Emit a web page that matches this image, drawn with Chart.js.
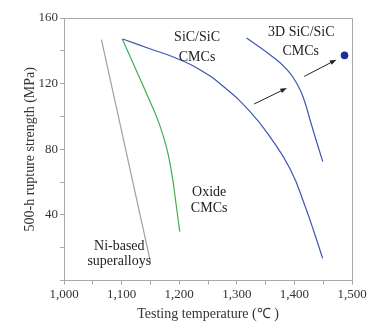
<!DOCTYPE html>
<html><head><meta charset="utf-8">
<script src="https://cdn.jsdelivr.net/npm/chart.js@4/dist/chart.umd.min.js"></script>
<style>html,body{margin:0;padding:0;background:#fff}#wrap{width:384px;height:323px}</style>
</head><body><div id="wrap"><canvas id="c" width="384" height="323"></canvas></div>
<script>
// Data (temperature °C, 500-h rupture strength MPa)
const niTemp = [1065, 1150];
const niStrength = [146.8, 11.5];
const oxideTemp = [1101, 1125, 1148, 1166, 1179, 1187.5, 1193.6, 1201];
const oxideStrength = [147.4, 128.5, 110.2, 94.9, 79.7, 64.4, 49.2, 29.8];
const sicTemp = [1102, 1149, 1193, 1236, 1279.5, 1323, 1357.6, 1392.4, 1418.4, 1435.8, 1449];
const sicStrength = [147.2, 141.3, 135.8, 128.5, 117.5, 102.9, 87.6, 68.1, 45.5, 27.8, 13.6];
const sic3dTemp = [1317, 1357.6, 1387.2, 1405.4, 1416.7, 1427.1, 1437.5, 1449.3];
const sic3dStrength = [147.8, 137.6, 128.5, 119.3, 110.2, 98.0, 85.8, 72.5];
const pointTemp = [1487];
const pointStrength = [137.2];
const xTicks = [1000, 1100, 1200, 1300, 1400, 1500];
const yTicks = [40, 80, 120, 160];
// annotation texts (data coordinates)
const labelTexts = ["SiC/SiC", "CMCs", "3D SiC/SiC", "CMCs", "Oxide", "CMCs", "Ni-based", "superalloys"];
const labelX = [1231, 1231, 1412, 1411, 1252, 1252, 1096, 1096];
const labelY = [148.0, 135.8, 151.5, 139.7, 53.9, 44.1, 20.7, 11.5];
const arrowFromX = [1330, 1417];
const arrowFromY = [107.6, 124.4];
const arrowToX = [1387, 1473];
const arrowToY = [117.3, 134.6];

const pts = (xs, ys) => xs.map((x, i) => ({x, y: ys[i]}));
const SERIF = "'Liberation Serif', 'Times New Roman', serif";

const annot = {
  id: 'annot',
  afterDatasetsDraw(chart) {
    const {ctx, chartArea: a, scales: {x, y}} = chart;
    ctx.save();
    ctx.strokeStyle = '#a8a8a8';
    ctx.lineWidth = 1;
    ctx.beginPath();
    ctx.moveTo(a.left, a.top + 0.5); ctx.lineTo(a.right + 0.5, a.top + 0.5); ctx.lineTo(a.right + 0.5, a.bottom);
    ctx.stroke();
    ctx.fillStyle = '#222';
    ctx.font = '14px ' + SERIF;
    ctx.textAlign = 'center';
    ctx.textBaseline = 'middle';
    labelTexts.forEach((t, i) => ctx.fillText(t, x.getPixelForValue(labelX[i]), y.getPixelForValue(labelY[i])));
    ctx.strokeStyle = '#222';
    ctx.fillStyle = '#222';
    ctx.lineWidth = 1;
    arrowFromX.forEach((fx, i) => {
      const x1 = x.getPixelForValue(fx), y1 = y.getPixelForValue(arrowFromY[i]);
      const x2 = x.getPixelForValue(arrowToX[i]), y2 = y.getPixelForValue(arrowToY[i]);
      const ang = Math.atan2(y2 - y1, x2 - x1);
      ctx.beginPath(); ctx.moveTo(x1, y1); ctx.lineTo(x2 - 4 * Math.cos(ang), y2 - 4 * Math.sin(ang)); ctx.stroke();
      ctx.beginPath();
      ctx.moveTo(x2, y2);
      ctx.lineTo(x2 - 7 * Math.cos(ang - 0.35), y2 - 7 * Math.sin(ang - 0.35));
      ctx.lineTo(x2 - 7 * Math.cos(ang + 0.35), y2 - 7 * Math.sin(ang + 0.35));
      ctx.closePath(); ctx.fill();
    });
    ctx.restore();
  }
};

const lineDs = (data, color) => ({data, borderColor: color, borderWidth: 1.2, pointRadius: 0, fill: false, tension: 0.5, showLine: true});

new Chart(document.getElementById('c'), {
  type: 'scatter',
  data: {
    datasets: [
      lineDs(pts(niTemp, niStrength), '#a0a0a0'),
      lineDs(pts(oxideTemp, oxideStrength), '#3fae4f'),
      lineDs(pts(sicTemp, sicStrength), '#3c56b4'),
      lineDs(pts(sic3dTemp, sic3dStrength), '#3c56b4'),
      {data: pts(pointTemp, pointStrength), showLine: false, pointRadius: 3.8, pointBackgroundColor: '#1f2f99', pointBorderColor: '#1f2f99', pointBorderWidth: 0}
    ]
  },
  options: {
    responsive: false, animation: false, devicePixelRatio: 1,
    layout: {padding: {left: 0, right: 32, top: 18, bottom: 0}},
    plugins: {legend: {display: false}, tooltip: {enabled: false}},
    scales: {
      x: {
        type: 'linear', min: 1000, max: 1500,
        afterFit: s => { s.height = 42.4; },
        border: {color: '#a8a8a8', width: 1},
        grid: {drawOnChartArea: false, tickLength: 4, color: '#a8a8a8'},
        ticks: {stepSize: 50, autoSkip: false, maxRotation: 0, padding: 2, color: '#333', font: {family: SERIF, size: 13},
          callback: v => xTicks.includes(v) ? v.toLocaleString('en-US') : ''},
        title: {display: true, text: 'Testing temperature (℃ )', color: '#333', font: {family: SERIF, size: 14}, padding: {top: 0, bottom: 0}}
      },
      y: {
        min: 0, max: 160,
        afterFit: s => { s.width = 64; },
        border: {color: '#a8a8a8', width: 1},
        grid: {drawOnChartArea: false, tickLength: 4, color: '#a8a8a8'},
        ticks: {stepSize: 20, autoSkip: false, padding: 2, color: '#333', font: {family: SERIF, size: 13},
          callback: v => yTicks.includes(v) ? String(v) : ''},
        title: {display: true, text: '500-h rupture strength (MPa)', color: '#333', font: {family: SERIF, size: 14}, padding: {top: 22, bottom: 0}}
      }
    }
  },
  plugins: [annot]
});
</script>
</body></html>
